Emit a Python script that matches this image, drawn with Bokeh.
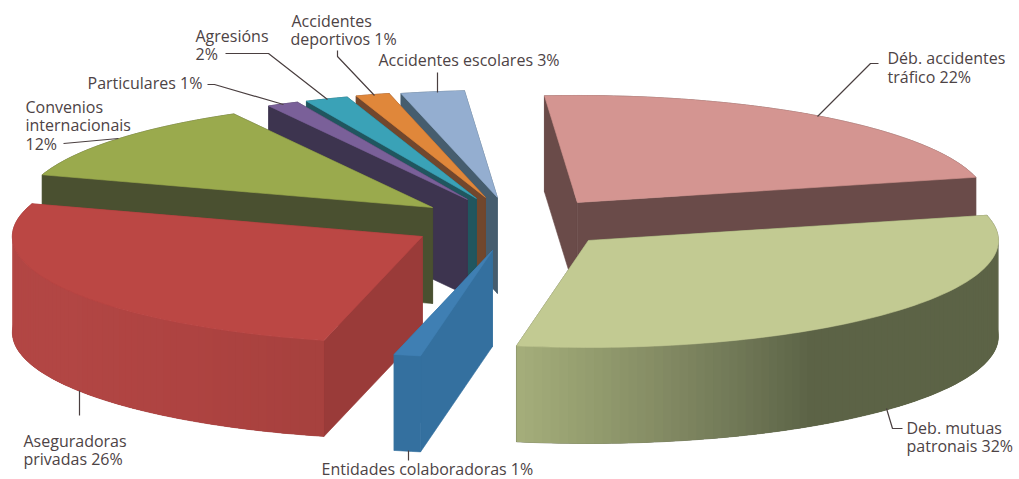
import math
from bokeh.embed import file_html
from bokeh.models import Range1d
from bokeh.plotting import figure
from bokeh.resources import INLINE
from bokeh.core.properties import value

# ---- data (order clockwise from the start angle)
names = ["Trafico", "Mutuas", "Entidades", "Aseguradoras", "Convenios",
         "Particulares", "Agresions", "Deportivos", "Escolares"]
shares = [22.5, 31.6, 1.05, 26.1, 12.0, 1.25, 1.7, 1.33, 2.5]

# ---- colours
top_colors = ["#d49591", "#c2ca92", "#3f7fb3", "#bb4744", "#9aaa4d",
              "#7a6099", "#3aa2b7", "#e0873a", "#94aed0"]
wall_colors = ["#6a4b49", "#5e6448", "#34709f", "#9a3b39", "#4a5030",
               "#3d344f", "#20565f", "#71472d", "#465d6e"]
# outer wall colour stops (angle in degrees, colour) for shaded slices
outer_stops = {
    "Mutuas": [(90, "#5c6346"), (147, "#5c6346"), (160, "#727a58"), (171, "#868d65"),
               (181, "#969f70"), (191, "#a6af7c")],
    "Aseguradoras": [(190, "#a5403d"), (215, "#ae4341"), (240, "#b24644"), (270, "#b24644")],
}

# ---- layout of the projection (flat ellipse, no perspective)
START = -4.6
CX, CY = 510, 222
RX, RY = 410, 107
DEPTH = 96
# exploded offset of each slice in units of the radius
explode_x = [0.163, 0.19, -0.044, -0.215, -0.19, -0.105, -0.083, -0.061, -0.032]
explode_y = [-0.187, 0.168, 0.262, 0.131, -0.14, -0.215, -0.224, -0.234, -0.234]
paint_order = [8, 7, 6, 5, 4, 0, 3, 2, 1]

labels = [
    ("Déb. accidentes", 887, 57), ("tráfico 22%", 887, 76),
    ("Deb. mutuas", 906, 427), ("patronais 32%", 906, 445),
    ("Entidades colaboradoras 1%", 321, 468),
    ("Aseguradoras", 23, 440), ("privadas 26%", 23, 458),
    ("Convenios", 25, 106), ("internacionais", 25, 124.5), ("12%", 25, 143),
    ("Particulares 1%", 87, 82),
    ("Agresións", 195, 35), ("2%", 195, 53),
    ("Accidentes", 291, 20), ("deportivos 1%", 290, 38),
    ("Accidentes escolares 3%", 378, 59),
]
leaders = [
    ([878, 870, 817], [63, 63, 116]),
    ([886, 892, 902], [408, 428, 428]),
    ([408, 408], [450, 460]),
    ([79, 79], [390, 415]),
    ([63, 118], [143, 138]),
    ([207, 214, 283], [84, 84, 104]),
    ([225, 268, 327], [53, 53, 99]),
    ([337, 337, 374], [50, 56, 95]),
    ([437, 437], [72, 92]),
]

def hex2rgb(h):
    return tuple(int(h[i:i + 2], 16) for i in (1, 3, 5))

def shade(stops, a):
    if a <= stops[0][0]:
        return stops[0][1]
    for (a0, c0), (a1, c1) in zip(stops, stops[1:]):
        if a <= a1:
            t = (a - a0) / (a1 - a0)
            r = [round(u + (v - u) * t) for u, v in zip(hex2rgb(c0), hex2rgb(c1))]
            return "#%02x%02x%02x" % tuple(r)
    return stops[-1][1]

def project(i, a):
    r = math.radians(a)
    return (CX + RX * (explode_x[i] + math.sin(r)),
            CY + RY * (explode_y[i] - math.cos(r)))

def apex(i):
    return CX + RX * explode_x[i], CY + RY * explode_y[i]

p = figure(width=1019, height=479, output_backend="svg", toolbar_location=None,
           x_range=Range1d(0, 1019), y_range=Range1d(479, 0), min_border=0,
           outline_line_color=None, background_fill_color="white")
p.axis.visible = False
p.grid.visible = False

def quad(xs, ys, color, lw=0.6):
    p.patch(xs, ys, fill_color=color, line_color=color, line_width=lw)

total = sum(shares)
starts, a = [], START
for s in shares:
    starts.append(a)
    a += s / total * 360

for i in paint_order:
    a0 = starts[i]
    a1 = a0 + shares[i] / total * 360
    steps = max(2, int((a1 - a0) / 1.2))
    angs = [a0 + (a1 - a0) * k / steps for k in range(steps + 1)]
    pts = [project(i, t) for t in angs]
    ax, ay = apex(i)
    stops = outer_stops.get(names[i], [(0, wall_colors[i]), (360, wall_colors[i])])
    # whole outer wall as one underlay, so that the shaded strips leave no seams
    quad([q[0] for q in pts] + [q[0] for q in reversed(pts)],
         [q[1] for q in pts] + [q[1] + DEPTH for q in reversed(pts)], wall_colors[i])
    walls = [(a0 - 90, pts[0]), (a1 + 90, pts[-1])]
    walls.sort(key=lambda w: -math.cos(math.radians(w[0])))
    for _, (ex, ey) in walls:
        quad([ax, ex, ex, ax], [ay, ey, ey + DEPTH, ay + DEPTH], wall_colors[i])
    if names[i] in outer_stops:
        # strips overlap their neighbour by one step, painted in sequence
        for k in range(steps):
            mid = (angs[k] + angs[k + 1]) / 2
            if math.cos(math.radians(mid)) > 0:
                continue
            j = min(k + 2, steps)
            seg = pts[k:j + 1]
            quad([q[0] for q in seg] + [q[0] for q in reversed(seg)],
                 [q[1] for q in seg] + [q[1] + DEPTH for q in reversed(seg)],
                 shade(stops, mid), lw=0)
    quad([ax] + [q[0] for q in pts], [ay] + [q[1] for q in pts], top_colors[i])

for xs, ys in leaders:
    p.line(xs, ys, line_color="#4a3f40", line_width=1.2)

for t, x, y in labels:
    p.text([x], [y], text=[t], text_font=value("Open Sans"), text_font_size="16px",
           text_color="#4d4345", text_baseline="middle", text_align="left")

open("out.html", "w").write(file_html(p, INLINE))
